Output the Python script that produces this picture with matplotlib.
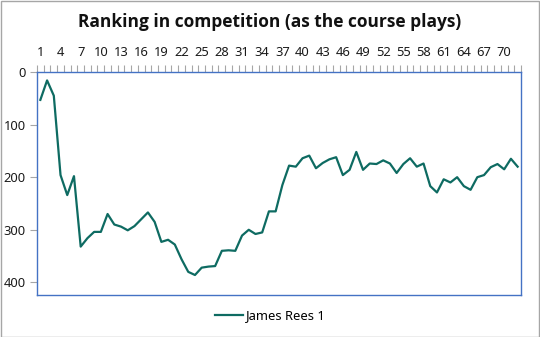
import numpy as np
import matplotlib
matplotlib.use('Agg')
import matplotlib.pyplot as plt
from matplotlib.patches import Rectangle
from matplotlib.ticker import FixedLocator, NullFormatter

plt.rcParams['font.family'] = ['Noto Sans', 'DejaVu Sans']

# Round number (1..72) and ranking after each round
rounds = list(range(1, 73))
ranking = [53, 16, 45, 196, 234, 198, 332, 316, 304, 304,
           270, 290, 294, 301, 293, 280, 267, 285, 323, 319,
           328, 356, 380, 386, 372, 370, 369, 340, 339, 340,
           311, 300, 308, 305, 265, 265, 215, 178, 180, 164,
           159, 183, 173, 166, 162, 196, 186, 152, 186, 174,
           175, 168, 174, 192, 175, 164, 180, 174, 217, 229,
           204, 210, 200, 217, 224, 200, 196, 181, 175, 185,
           165, 180]
series_name = 'James Rees 1'
title = 'Ranking in competition (as the course plays)'
y_ticks = [0, 100, 200, 300, 400]
x_labels = list(range(1, 71, 3))

W, H = 540, 337
fig = plt.figure(figsize=(W / 100, H / 100), dpi=100)
ax = fig.add_axes([37 / W, 1 - 295 / H, (521 - 37) / W, (295 - 72) / H])

line_color = '#0E6B62'
ax.plot(rounds, ranking, color=line_color, lw=1.6, label=series_name)

ax.set_xlim(0.5, len(rounds) + 0.5)
ax.set_ylim(424, 0)

# x axis on top: tick marks between categories, labels every 3rd round
ax.xaxis.tick_top()
ax.set_xticks(x_labels)
ax.set_xticklabels([str(v) for v in x_labels], fontsize=9.3, color='#1a1a1a')
ax.tick_params(axis='x', which='major', length=0, pad=9)
ax.xaxis.set_minor_locator(FixedLocator(np.arange(0.5, len(rounds) + 1, 1)))
ax.xaxis.set_minor_formatter(NullFormatter())
ax.tick_params(axis='x', which='minor', length=5, width=0.8,
               color='#A6A6A6', direction='out', top=True, bottom=False)

ax.set_yticks(y_ticks)
ax.set_yticklabels([str(v) for v in y_ticks], fontsize=9.3, color='#1a1a1a')
ax.tick_params(axis='y', length=5, width=0.8, color='#A6A6A6', pad=3)

for s in ax.spines.values():
    s.set_color('#4472C4')
    s.set_linewidth(1.0)

fig.text(0.5, 1 - 22 / H, title, ha='center', va='center',
         fontsize=12.5, fontweight='bold', color='#111111',
         family=['Open Sans', 'DejaVu Sans'])

fig.legend(loc='center', bbox_to_anchor=(0.5, 1 - 316 / H), frameon=False,
           fontsize=9.3, handlelength=2.2, handletextpad=0.2)

fig.patches.append(Rectangle((0.5 / W, 0.5 / H), 1 - 1.5 / W, 1 - 1.5 / H,
                             transform=fig.transFigure, fill=False,
                             edgecolor='#A6A6A6', lw=1.0))

fig.savefig('out.png', dpi=100, facecolor='white')
